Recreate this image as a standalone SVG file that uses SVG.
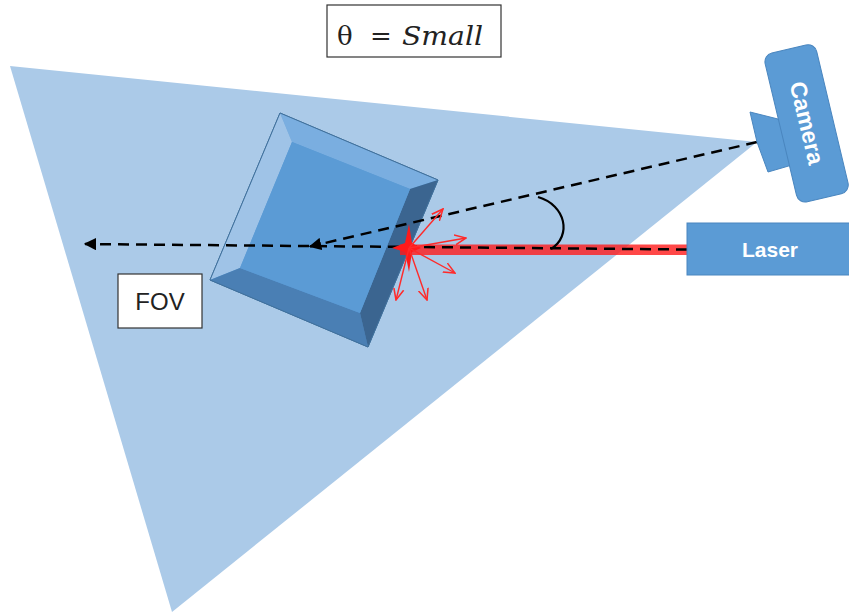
<svg xmlns="http://www.w3.org/2000/svg" width="849" height="613" viewBox="0 0 849 613">
  <style>
    .lbl { font-family: "Liberation Sans", Arial, sans-serif; }
    .dev { fill: #5b9bd5; stroke: #4a86bf; stroke-width: 1; }
    .devtxt { font-family: "Liberation Sans", Arial, sans-serif; font-weight: bold; fill: #ffffff; }
    .ray { fill: none; stroke: #000; stroke-width: 2.5; stroke-dasharray: 11 7; }
    .scatter { fill: none; stroke: #ff2a2a; stroke-width: 1.4; }
    .box { fill: #ffffff; stroke: #333; stroke-width: 1.2; }
  </style>
  <defs>
    <marker id="blackHead" viewBox="0 0 10 10" refX="9" refY="5" markerWidth="5" markerHeight="5" orient="auto" markerUnits="strokeWidth">
      <path d="M0,0 L10,5 L0,10 Z" fill="#000"/>
    </marker>
    <marker id="redHead" viewBox="0 0 10 10" refX="9" refY="5" markerWidth="9" markerHeight="9" orient="auto" markerUnits="strokeWidth">
      <path d="M0,1 L9,5 L0,9" fill="none" stroke="#ff2a2a" stroke-width="1.2"/>
    </marker>
  </defs>

  <rect width="849" height="613" fill="#ffffff"/>

  <!-- field of view wedge -->
  <g id="fov-area">
    <polygon points="10,66 757,142 172,612" fill="#abcae8"/>
  </g>

  <!-- tilted cube -->
  <g id="cube">
    <polygon points="280,113 438,180 368,347 210,280" fill="#5b9bd5" stroke="#41719c" stroke-width="1"/>
    <polygon points="280,113 438,180 410,189 292,142" fill="#7aaee0"/>
    <polygon points="280,113 292,142 240,268 210,280" fill="#9fc3e7"/>
    <polygon points="210,280 240,268 360,313 368,347" fill="#4a7fb4"/>
    <polygon points="438,180 368,347 360,313 410,189" fill="#3b6590"/>
    <polygon points="292,142 410,189 360,313 240,268" fill="#5b9bd5"/>
    <polygon points="280,113 438,180 368,347 210,280" fill="none" stroke="#41719c" stroke-width="1"/>
  </g>

  <!-- laser beam -->
  <g id="beam">
    <rect x="400" y="244.5" width="287" height="10.5" fill="#ff1a1a" fill-opacity="0.8"/>
  </g>

  <!-- rays and angle -->
  <g id="connectors">
    <line class="ray" x1="687" y1="249.5" x2="85" y2="244" marker-end="url(#blackHead)"/>
    <line class="ray" x1="757" y1="142" x2="310" y2="246.5" marker-end="url(#blackHead)"/>
    <path d="M538,197 C566,205 572,236 551,249" fill="none" stroke="#000" stroke-width="2.2"/>
  </g>

  <!-- scattering at the hit point -->
  <g id="scatter">
    <polygon points="409,224 412,243 421,248 412,252 409,272 405,252 392,248 405,243" fill="#ff1a1a"/>
    <line class="scatter" x1="409" y1="248" x2="443" y2="209" marker-end="url(#redHead)"/>
    <line class="scatter" x1="409" y1="248" x2="466" y2="238" marker-end="url(#redHead)"/>
    <line class="scatter" x1="409" y1="248" x2="455" y2="273" marker-end="url(#redHead)"/>
    <line class="scatter" x1="409" y1="248" x2="427" y2="300" marker-end="url(#redHead)"/>
    <line class="scatter" x1="409" y1="248" x2="396" y2="300" marker-end="url(#redHead)"/>
  </g>

  <!-- camera -->
  <g id="camera">
    <polygon class="dev" points="750,112 790,122 792,165 768,172 757,142"/>
    <rect class="dev" x="-26" y="-76" width="53" height="153" rx="9" transform="translate(806,123) rotate(-13.4)"/>
    <text class="devtxt" font-size="23" text-anchor="middle" dominant-baseline="central" transform="translate(807,123) rotate(76.6)">Camera</text>
  </g>

  <!-- laser source -->
  <g id="laser">
    <rect class="dev" x="687" y="223" width="165" height="52"/>
    <text class="devtxt" x="770" y="257" font-size="21" text-anchor="middle">Laser</text>
  </g>

  <!-- labels -->
  <g id="fov-label">
    <rect class="box" x="118" y="274" width="84" height="54"/>
    <text class="lbl" x="160" y="310" font-size="24" text-anchor="middle" fill="#222">FOV</text>
  </g>

  <g id="theta-label">
    <rect class="box" x="327" y="5" width="174" height="52"/>
    <text x="337" y="45" font-family="'DejaVu Serif', 'Liberation Serif', serif" font-size="26" fill="#222">θ</text>
    <text x="370" y="45" font-family="'DejaVu Serif', 'Liberation Serif', serif" font-size="26" fill="#222">=</text>
    <text x="402" y="45" font-family="'DejaVu Serif', 'Liberation Serif', serif" font-style="italic" font-size="26" fill="#222" textLength="81" lengthAdjust="spacingAndGlyphs">Small</text>
  </g>
</svg>
